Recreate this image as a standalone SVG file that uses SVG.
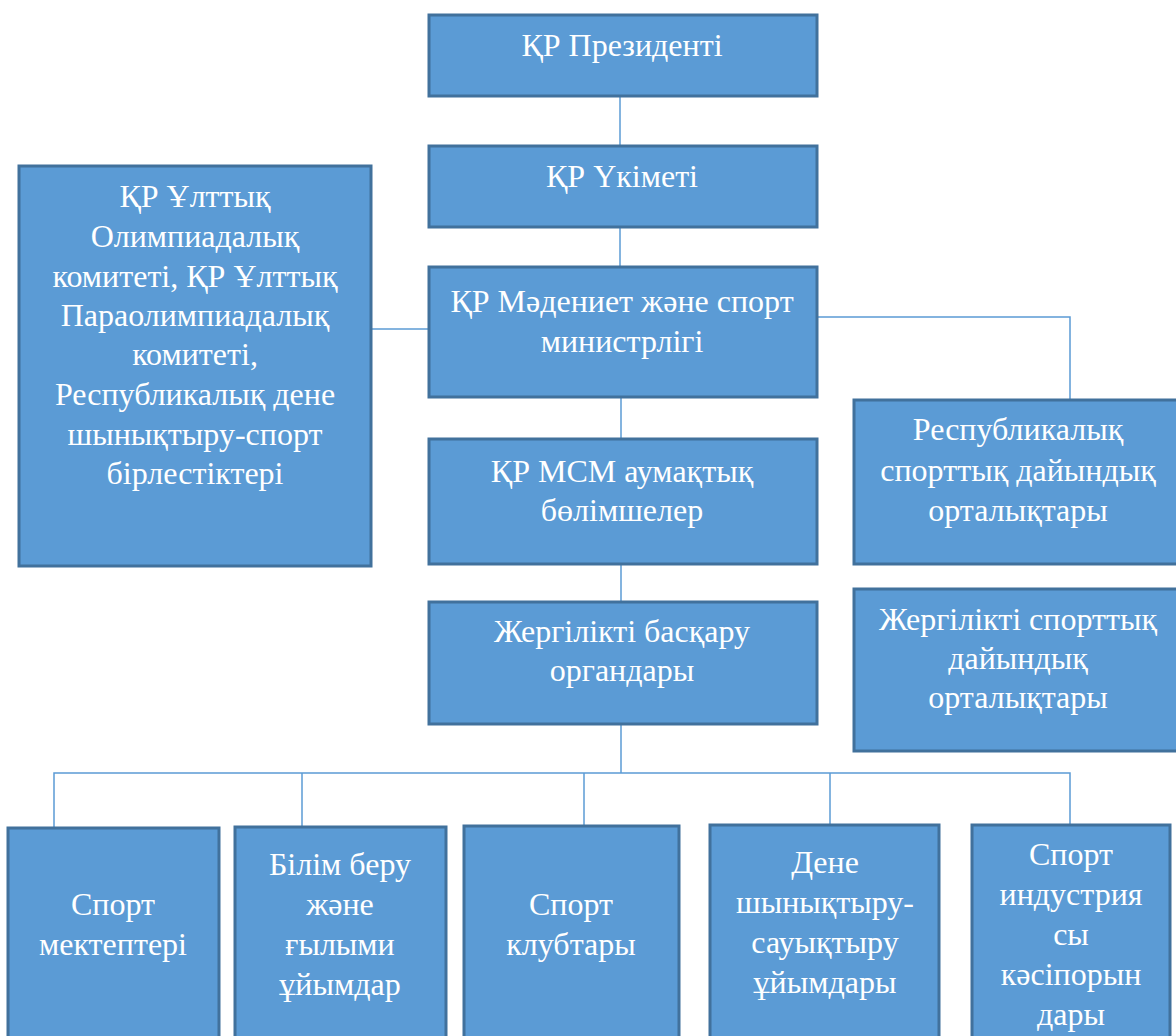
<svg xmlns="http://www.w3.org/2000/svg" width="1176" height="1036" viewBox="0 0 1176 1036">
<style>
.box{fill:#5B9BD5;stroke:#41719C;stroke-width:3}
.lbl{font-family:'Liberation Serif','Times New Roman','DejaVu Serif',serif;font-size:32px;fill:#FFFFFF;text-anchor:middle}
.con{fill:none;stroke:#5B9BD5;stroke-width:1.5}
</style>
<rect width="1176" height="1036" fill="#FFFFFF"/>
<g id="connectors">
<path class="con" d="M620,96 V146"/>
<path class="con" d="M620,227 V267"/>
<path class="con" d="M621,397 V439"/>
<path class="con" d="M621,564 V602"/>
<path class="con" d="M371,329 H428"/>
<path class="con" d="M817,317 H1070 V400"/>
<path class="con" d="M621,724 V773"/>
<path class="con" d="M54,828 V773 H1070 V825"/>
<path class="con" d="M302,773 V827"/>
<path class="con" d="M584,773 V826"/>
<path class="con" d="M830,773 V825"/>
</g>
<g id="president">
<rect class="box" x="429" y="15" width="388" height="81"/>
<text class="lbl" x="622" y="56">ҚР Президенті</text>
</g>
<g id="government">
<rect class="box" x="429" y="146" width="388" height="81"/>
<text class="lbl" x="622" y="187">ҚР Үкіметі</text>
</g>
<g id="ministry">
<rect class="box" x="429" y="267" width="388" height="130"/>
<text class="lbl" x="622" y="312">ҚР Мәдениет және спорт</text>
<text class="lbl" x="622" y="352">министрлігі</text>
</g>
<g id="olympic">
<rect class="box" x="19" y="166" width="352" height="400"/>
<text class="lbl" x="195" y="207">ҚР Ұлттық</text>
<text class="lbl" x="195" y="247">Олимпиадалық</text>
<text class="lbl" x="195" y="287">комитеті, ҚР Ұлттық</text>
<text class="lbl" x="195" y="326">Параолимпиадалық</text>
<text class="lbl" x="195" y="365">комитеті,</text>
<text class="lbl" x="195" y="405">Республикалық дене</text>
<text class="lbl" x="195" y="445">шынықтыру-спорт</text>
<text class="lbl" x="195" y="484">бірлестіктері</text>
</g>
<g id="msm">
<rect class="box" x="429" y="439" width="388" height="125"/>
<text class="lbl" x="622" y="482">ҚР МСМ аумақтық</text>
<text class="lbl" x="622" y="521">бөлімшелер</text>
</g>
<g id="local-gov">
<rect class="box" x="429" y="602" width="388" height="122"/>
<text class="lbl" x="622" y="642">Жергілікті басқару</text>
<text class="lbl" x="622" y="681">органдары</text>
</g>
<g id="rep-centers">
<rect class="box" x="854" y="400" width="330" height="164"/>
<text class="lbl" x="1018" y="440">Республикалық</text>
<text class="lbl" x="1018" y="481">спорттық дайындық</text>
<text class="lbl" x="1018" y="521">орталықтары</text>
</g>
<g id="local-centers">
<rect class="box" x="854" y="589" width="330" height="162"/>
<text class="lbl" x="1018" y="630">Жергілікті спорттық</text>
<text class="lbl" x="1018" y="669">дайындық</text>
<text class="lbl" x="1018" y="708">орталықтары</text>
</g>
<g id="sport-schools">
<rect class="box" x="8" y="828" width="211" height="220"/>
<text class="lbl" x="113" y="915">Спорт</text>
<text class="lbl" x="113" y="955">мектептері</text>
</g>
<g id="education">
<rect class="box" x="235" y="827" width="211" height="220"/>
<text class="lbl" x="340" y="875">Білім беру</text>
<text class="lbl" x="340" y="915">және</text>
<text class="lbl" x="340" y="955">ғылыми</text>
<text class="lbl" x="340" y="995">ұйымдар</text>
</g>
<g id="clubs">
<rect class="box" x="464" y="826" width="215" height="220"/>
<text class="lbl" x="571" y="915">Спорт</text>
<text class="lbl" x="571" y="955">клубтары</text>
</g>
<g id="health">
<rect class="box" x="710" y="825" width="229" height="220"/>
<text class="lbl" x="825" y="873">Дене</text>
<text class="lbl" x="825" y="913">шынықтыру-</text>
<text class="lbl" x="825" y="953">сауықтыру</text>
<text class="lbl" x="825" y="993">ұйымдары</text>
</g>
<g id="industry">
<rect class="box" x="972" y="825" width="198" height="220"/>
<text class="lbl" x="1071" y="865">Спорт</text>
<text class="lbl" x="1071" y="905">индустрия</text>
<text class="lbl" x="1071" y="945">сы</text>
<text class="lbl" x="1071" y="985">кәсіпорын</text>
<text class="lbl" x="1071" y="1025">дары</text>
</g>
</svg>
